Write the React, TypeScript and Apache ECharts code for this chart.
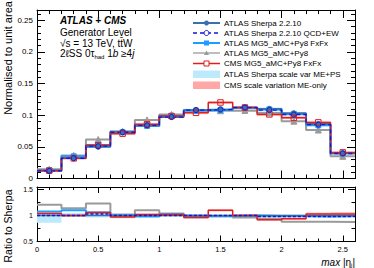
import React, { useEffect, useRef } from 'react';
import * as echarts from 'echarts';

// ---- data ----
const binEdges = [0, 0.2, 0.4, 0.6, 0.8, 1.0, 1.2, 1.4, 1.6, 1.8, 2.0, 2.2, 2.4, 2.6];

// Main panel: normalised to unit area
const sherpa = [0.012, 0.032, 0.050, 0.073, 0.084, 0.097, 0.108, 0.109, 0.112, 0.110, 0.103, 0.086, 0.040];
const sherpaQcdEw = [0.012, 0.032, 0.051, 0.073, 0.084, 0.097, 0.108, 0.109, 0.112, 0.108, 0.101, 0.085, 0.0395];
const mg5FxFx = [0.013, 0.035, 0.053, 0.073, 0.083, 0.099, 0.107, 0.108, 0.112, 0.109, 0.102, 0.084, 0.0395];
const mg5Py8 = [0.0145, 0.0365, 0.0615, 0.0745, 0.0925, 0.101, 0.108, 0.107, 0.1075, 0.1035, 0.0905, 0.0765, 0.035];
const cmsFxFx = [0.0125, 0.0318, 0.0525, 0.0708, 0.0857, 0.0985, 0.1037, 0.120, 0.112, 0.1012, 0.0958, 0.0886, 0.0412];

// Ratio panel: ratio to Sherpa
const ratioSherpa = [1, 1, 1, 1, 1, 1, 1, 1, 1, 1, 1, 1, 1];
const ratioQcdEw = [1.0, 1.0, 1.03, 1.0, 1.0, 1.0, 1.0, 1.0, 1.0, 0.98, 0.98, 0.98, 0.98];
const ratioFxFx = [1.08, 1.10, 1.06, 1.0, 0.98, 1.02, 0.99, 0.99, 1.0, 0.99, 0.99, 0.98, 0.99];
const ratioPy8 = [1.21, 1.14, 1.23, 1.02, 1.10, 1.04, 1.0, 0.98, 0.96, 0.94, 0.88, 0.88, 0.875];
const ratioCms = [1.04, 1.0, 1.06, 0.97, 1.02, 1.02, 0.96, 1.10, 1.0, 0.92, 0.94, 1.03, 1.03];

// Uncertainty bands (relative)
const sherpaBandLo = [0.86, 0.97, 0.96, 0.97, 0.97, 0.98, 0.98, 0.98, 0.98, 0.96, 0.96, 0.96, 0.96];
const sherpaBandHi = [1.06, 1.05, 1.04, 1.02, 1.02, 1.02, 1.02, 1.02, 1.02, 1.02, 1.02, 1.03, 1.03];
const cmsBandLo = [1.02, 0.98, 1.04, 0.95, 1.0, 1.0, 0.94, 1.08, 0.98, 0.9, 0.92, 1.0, 0.99];
const cmsBandHi = [1.06, 1.02, 1.08, 0.99, 1.04, 1.04, 0.98, 1.12, 1.02, 0.94, 0.96, 1.06, 1.07];

const mainYTicks = ['0', '0.05', '0.1', '0.15', '0.2', '0.25'];
const ratioYTicks = ['0.5', '1', '1.5'];
const xTicks = ['0', '0.5', '1', '1.5', '2', '2.5'];

const legendLabels = [
  'ATLAS Sherpa 2.2.10',
  'ATLAS Sherpa 2.2.10 QCD+EW',
  'ATLAS MG5_aMC+Py8 FxFx',
  'ATLAS MG5_aMC+Py8',
  'CMS MG5_aMC+Py8 FxFx',
  'ATLAS Sherpa scale var ME+PS',
  'CMS scale variation ME-only',
];

// ---- style ----
const FONT = '"Liberation Sans", Arial, Helvetica, sans-serif';
const C_SHERPA = '#3473ae';
const C_QCDEW = '#1515d8';
const C_FXFX = '#1e9cff';
const C_PY8 = '#9a9a9a';
const C_CMS = '#dd1f1f';
const C_SBAND = '#bde9fc';
const C_CBAND = '#ffa6a6';

const L = 37, R = 19;
const MAIN_TOP = 10, MAIN_H = 168.5;
const RAT_TOP = 187, RAT_H = 54.5;

const stepData = (v: number[]) => [
  ...v.map((y, i) => [binEdges[i], y]),
  [binEdges[v.length], v[v.length - 1]],
];
const centerData = (v: number[]) => v.map((y, i) => [(binEdges[i] + binEdges[i + 1]) / 2, y]);

function stepSeries(v: number[], color: string, width: number, ax: number, z: number, dash?: any) {
  return {
    type: 'line', step: 'end', data: stepData(v), xAxisIndex: ax, yAxisIndex: ax,
    symbol: 'none', silent: true, z,
    lineStyle: { color, width, type: dash || 'solid' },
  };
}

function markerSeries(v: number[], symbol: string, size: number, fill: string, stroke: string, z: number) {
  return {
    type: 'scatter', data: centerData(v), xAxisIndex: 0, yAxisIndex: 0, symbol, symbolSize: size,
    silent: true, z,
    itemStyle: { color: fill, borderColor: stroke, borderWidth: 1, opacity: 1 },
  };
}

function bandSeries(lo: number[], hi: number[], color: string, ax: number, z: number) {
  const data = lo.map((l, i) => [binEdges[i], binEdges[i + 1], l, hi[i]]);
  return {
    type: 'custom', xAxisIndex: ax, yAxisIndex: ax, silent: true, z, clip: true,
    encode: { x: [0, 1], y: [2, 3] },
    data,
    renderItem: (params: any, api: any) => {
      const p0 = api.coord([api.value(0), api.value(3)]);
      const p1 = api.coord([api.value(1), api.value(2)]);
      return {
        type: 'rect',
        shape: { x: p0[0], y: p0[1], width: p1[0] - p0[0], height: p1[1] - p0[1] },
        style: { fill: color },
      };
    },
  };
}

function xAxis(grid: number, position: string, interval: number, tickLen: number, line: boolean, labels: boolean) {
  return {
    type: 'value', gridIndex: grid, position, min: 0, max: 2.6, interval,
    axisLine: { show: line, onZero: false, lineStyle: { color: '#000', width: 1 } },
    axisTick: { show: true, inside: true, length: tickLen, lineStyle: { color: '#000', width: 1 } },
    axisLabel: {
      show: labels, color: '#000', fontSize: 7.5, fontFamily: FONT, margin: 4,
      showMaxLabel: false,
      formatter: (v: number) => {
        const s = xTicks.find((t) => Math.abs(parseFloat(t) - v) < 1e-6);
        return s === undefined ? '' : s;
      },
    },
    splitLine: { show: false },
  };
}

function yAxis(grid: number, position: string, min: number, max: number, interval: number, tickLen: number,
  line: boolean, labels: boolean, fontSize: number, tickLabels: string[]) {
  return {
    type: 'value', gridIndex: grid, position, min, max, interval,
    axisLine: { show: line, onZero: false, lineStyle: { color: '#000', width: 1 } },
    axisTick: { show: true, inside: true, length: tickLen, lineStyle: { color: '#000', width: 1 } },
    axisLabel: {
      show: labels, color: '#000', fontSize, fontFamily: FONT, margin: 4,
      showMaxLabel: false,
      formatter: (v: number) => {
        const s = tickLabels.find((t) => Math.abs(parseFloat(t) - v) < 1e-6);
        return s === undefined ? '' : s;
      },
    },
    splitLine: { show: false },
  };
}

function legendGraphics() {
  const rows = [23, 33, 43, 53, 63.5];
  const x1 = 193, x2 = 220, xm = 206.5, xt = 224;
  const g: any[] = [];
  const styles = [
    { stroke: C_SHERPA, w: 2, dash: null },
    { stroke: C_QCDEW, w: 1.3, dash: [4, 3] },
    { stroke: C_FXFX, w: 2, dash: null },
    { stroke: C_PY8, w: 1.3, dash: null },
    { stroke: C_CMS, w: 1.5, dash: null },
  ];
  rows.forEach((y, i) => {
    const s = styles[i];
    g.push({ type: 'line', shape: { x1, y1: y, x2, y2: y }, style: { stroke: s.stroke, lineWidth: s.w, lineDash: s.dash }, z: 100 });
  });
  g.push({ type: 'circle', shape: { cx: xm, cy: rows[0], r: 2.5 }, style: { fill: C_SHERPA }, z: 101 });
  g.push({ type: 'circle', shape: { cx: xm, cy: rows[1], r: 2.5 }, style: { fill: '#fff', stroke: C_QCDEW, lineWidth: 1 }, z: 101 });
  g.push({ type: 'rect', shape: { x: xm - 2.5, y: rows[2] - 2.5, width: 5, height: 5 }, style: { fill: C_FXFX }, z: 101 });
  g.push({ type: 'polygon', shape: { points: [[xm, rows[3] - 2.5], [xm - 2.5, rows[3] + 2], [xm + 2.5, rows[3] + 2]] }, style: { fill: C_PY8 }, z: 101 });
  g.push({ type: 'rect', shape: { x: xm - 2.5, y: rows[4] - 2.5, width: 5, height: 5 }, style: { fill: '#fff', stroke: C_CMS, lineWidth: 1 }, z: 101 });
  g.push({ type: 'rect', shape: { x: x1, y: 70.5, width: x2 - x1, height: 7.5 }, style: { fill: C_SBAND }, z: 100 });
  g.push({ type: 'rect', shape: { x: x1, y: 81.5, width: x2 - x1, height: 7.5 }, style: { fill: C_CBAND }, z: 100 });
  const ys = [23, 33, 43, 53, 63.5, 74, 85];
  legendLabels.forEach((t, i) => {
    g.push({ type: 'text', x: xt, y: ys[i], z: 102, style: { text: t, fontSize: 8, fontFamily: FONT, fill: '#000', align: 'left', verticalAlign: 'middle' } });
  });
  return g;
}

export default function App() {
  const ref = useRef<HTMLDivElement>(null);
  useEffect(() => {
    if (!ref.current) return;
    const chart = echarts.init(ref.current, undefined, { renderer: 'svg' });

    const sBandMainLo = sherpa.map((v, i) => v * sherpaBandLo[i]);
    const sBandMainHi = sherpa.map((v, i) => v * sherpaBandHi[i]);
    const cBandMainLo = sherpa.map((v, i) => v * cmsBandLo[i]);
    const cBandMainHi = sherpa.map((v, i) => v * cmsBandHi[i]);

    const grids = [
      { left: L, right: R, top: MAIN_TOP, height: MAIN_H },
      { left: L, right: R, top: MAIN_TOP, height: MAIN_H },
      { left: L, right: R, top: RAT_TOP, height: RAT_H },
      { left: L, right: R, top: RAT_TOP, height: RAT_H },
    ];

    const option: any = {
      animation: false,
      backgroundColor: '#fff',
      grid: grids,
      xAxis: [
        xAxis(0, 'bottom', 0.5, 8, true, false),
        xAxis(0, 'top', 0.5, 8, true, false),
        xAxis(1, 'bottom', 0.1, 4, false, false),
        xAxis(1, 'top', 0.1, 4, false, false),
        xAxis(2, 'bottom', 0.5, 6, true, true),
        xAxis(2, 'top', 0.5, 6, true, false),
        xAxis(3, 'bottom', 0.1, 3, false, false),
        xAxis(3, 'top', 0.1, 3, false, false),
      ],
      yAxis: [
        yAxis(0, 'left', 0, 0.266, 0.05, 8, true, true, 8, mainYTicks),
        yAxis(0, 'right', 0, 0.266, 0.05, 8, true, false, 8, mainYTicks),
        yAxis(1, 'left', 0, 0.266, 0.01, 4, false, false, 8, mainYTicks),
        yAxis(1, 'right', 0, 0.266, 0.01, 4, false, false, 8, mainYTicks),
        yAxis(2, 'left', 0.5, 1.55, 0.5, 7, true, true, 7, ratioYTicks),
        yAxis(2, 'right', 0.5, 1.55, 0.5, 7, true, false, 7, ratioYTicks),
        yAxis(3, 'left', 0.5, 1.55, 0.25, 3.5, false, false, 7, ratioYTicks),
        yAxis(3, 'right', 0.5, 1.55, 0.25, 3.5, false, false, 7, ratioYTicks),
      ],
      series: [
        // main panel
        bandSeries(sBandMainLo, sBandMainHi, C_SBAND, 0, 1),
        bandSeries(cBandMainLo.map((v, i) => Math.min(v, cmsFxFx[i] * 0.98)), cBandMainHi.map((v, i) => Math.max(v, cmsFxFx[i] * 1.02)), 'rgba(255,166,166,0.6)', 0, 1),
        stepSeries(mg5Py8, C_PY8, 2, 0, 3),
        stepSeries(mg5FxFx, C_FXFX, 2, 0, 4),
        stepSeries(sherpa, C_SHERPA, 1.8, 0, 5),
        stepSeries(cmsFxFx, C_CMS, 1.5, 0, 6),
        stepSeries(sherpaQcdEw, C_QCDEW, 1.3, 0, 7, [4, 3]),
        markerSeries(mg5Py8, 'triangle', 6, C_PY8, C_PY8, 8),
        markerSeries(mg5FxFx, 'rect', 5, C_FXFX, C_FXFX, 8),
        markerSeries(sherpa, 'circle', 5, C_SHERPA, C_SHERPA, 9),
        markerSeries(cmsFxFx, 'rect', 5.5, 'rgba(255,255,255,0)', C_CMS, 10),
        markerSeries(sherpaQcdEw, 'circle', 5, 'rgba(255,255,255,0)', C_QCDEW, 10),
        // ratio panel
        bandSeries(sherpaBandLo, sherpaBandHi, C_SBAND, 4, 1),
        bandSeries(cmsBandLo, cmsBandHi, 'rgba(255,166,166,0.7)', 4, 2),
        stepSeries(ratioPy8, C_PY8, 2, 4, 3),
        stepSeries(ratioFxFx, C_FXFX, 2, 4, 4),
        stepSeries(ratioSherpa, C_SHERPA, 1.5, 4, 5),
        stepSeries(ratioCms, C_CMS, 1.5, 4, 6),
        stepSeries(ratioQcdEw, C_QCDEW, 1.5, 4, 7, [3, 2]),
      ],
      graphic: [
        {
          type: 'text', x: 60, y: 20, z: 100,
          style: { text: 'ATLAS + CMS', fontSize: 10, fontWeight: 'bold', fontStyle: 'italic', fontFamily: FONT, fill: '#000', verticalAlign: 'middle' },
        },
        {
          type: 'text', x: 60, y: 32, z: 100,
          style: { text: 'Generator Level', fontSize: 10, fontFamily: FONT, fill: '#000', verticalAlign: 'middle' },
        },
        {
          type: 'text', x: 60, y: 43, z: 100,
          style: { text: '\u221As = 13 TeV, tt\u0304W', fontSize: 10, fontFamily: FONT, fill: '#000', verticalAlign: 'middle' },
        },
        {
          type: 'text', x: 60, y: 53.5, z: 100,
          style: {
            text: '2\u2113SS 0\u03C4{sub|had} 1{it|b} \u22654{it|j}',
            fontSize: 10, fontFamily: FONT, fill: '#000', verticalAlign: 'middle',
            rich: {
              sub: { fontSize: 6, fontFamily: FONT, padding: [6, 0, 0, 0] },
              it: { fontSize: 10, fontFamily: FONT, fontStyle: 'italic' },
            },
          },
        },
        ...legendGraphics(),
        {
          type: 'text', x: 8, y: 58, rotation: Math.PI / 2, z: 100,
          style: { text: 'Normalised to unit area', fontSize: 11, fontFamily: FONT, fill: '#000', align: 'center', verticalAlign: 'middle' },
        },
        {
          type: 'text', x: 8, y: 226, rotation: Math.PI / 2, z: 100,
          style: { text: 'Ratio to Sherpa', fontSize: 10.5, fontFamily: FONT, fill: '#000', align: 'center', verticalAlign: 'middle' },
        },
        {
          type: 'text', x: 355, y: 262, z: 100,
          style: {
            text: '{it|max} |\u03B7{sub|j}|',
            fontSize: 10, fontFamily: FONT, fill: '#000', align: 'right', verticalAlign: 'middle',
            rich: {
              it: { fontSize: 10, fontFamily: FONT, fontStyle: 'italic' },
              sub: { fontSize: 6, fontFamily: FONT, padding: [6, 0, 0, 0] },
            },
          },
        },
      ],
    };
    chart.setOption(option);
    return () => chart.dispose();
  }, []);
  return <div ref={ref} style={{ position: 'fixed', left: 0, top: 0, width: 374, height: 268 }} />;
}
